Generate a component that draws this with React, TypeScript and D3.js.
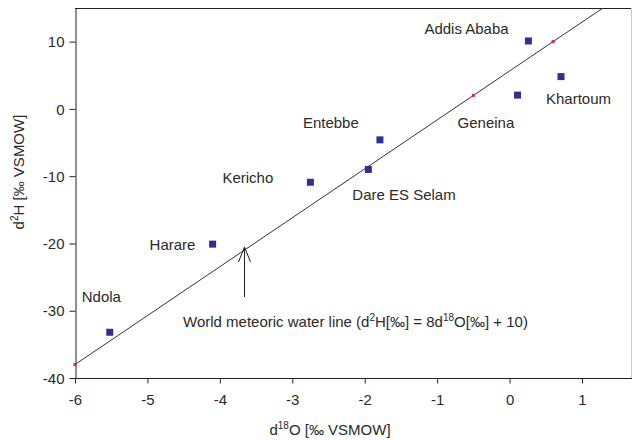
import React, { useEffect, useRef } from 'react';
import * as d3 from 'd3';

// station measurements
const stations = ['Ndola', 'Harare', 'Kericho', 'Dare ES Selam', 'Entebbe', 'Geneina', 'Addis Ababa', 'Khartoum'];
const d18O = [-5.52, -4.1, -2.75, -1.95, -1.79, 0.11, 0.26, 0.71];
const d2H = [-33.2, -20.1, -10.9, -9.0, -4.6, 2.05, 10.1, 4.8];

// meteoric water line as drawn in the chart (markers + end of the line)
const lineX = [-6, -0.5, 0.6];
const lineY = [-38, 2, 10];
const lineEnd = [1.29, 15];

const xTicks = [-6, -5, -4, -3, -2, -1, 0, 1];
const yTicks = [-40, -30, -20, -10, 0, 10];

// label offsets in px relative to the marker
const labelDx = [-28, -63, -88, -16, -77, -60, -104, -15];
const labelDy = [-30, 6, 1, 31, -12, 33, -7, 27];

const FONT = '"Liberation Sans", Arial, sans-serif';
const TEXT = '#2a2a2a';

const App = () => {
  const svgRef = useRef(null);

  useEffect(() => {
    const width = 632;
    const height = 441;
    const svg = d3.select(svgRef.current);
    svg.selectAll('*').remove();
    svg.attr('width', width).attr('height', height);

    const x = d3.scaleLinear().domain([-6, 1]).range([75, 582]);
    const y = d3.scaleLinear().domain([-40, 15]).range([378, 8]);
    const left = x(-6);
    const top = y(15);
    const bottom = y(-40);

    // plot frame
    svg.append('line')
      .attr('x1', left).attr('x2', width).attr('y1', top + 0.5).attr('y2', top + 0.5)
      .attr('stroke', '#222');
    svg.append('line')
      .attr('x1', width - 0.5).attr('x2', width - 0.5).attr('y1', top).attr('y2', bottom)
      .attr('stroke', '#ccc');

    svg.append('defs').append('clipPath').attr('id', 'plot')
      .append('rect').attr('x', left).attr('y', top).attr('width', width - left).attr('height', bottom - top);

    // axes (plain hyphen for negatives, like the original)
    const fmt = d => String(d);
    const xAxis = svg.append('g')
      .attr('transform', `translate(0, ${bottom + 0.5})`)
      .call(d3.axisBottom(x).tickValues(xTicks).tickSize(5).tickSizeOuter(0).tickFormat(fmt));
    xAxis.select('.domain').attr('d', `M${left},0H${width}`);

    const yAxis = svg.append('g')
      .attr('transform', `translate(${left + 0.5}, 0)`)
      .call(d3.axisLeft(y).tickValues(yTicks).tickSize(6).tickSizeOuter(0).tickFormat(fmt));

    [xAxis, yAxis].forEach(g => {
      g.selectAll('path, line').attr('stroke', '#222');
      g.selectAll('text').attr('fill', TEXT).style('font-family', FONT).style('font-size', '15px');
    });
    xAxis.selectAll('text').attr('dy', '1.25em');
    yAxis.selectAll('text').attr('x', -11).attr('dy', '0.35em');

    // water line
    const linePts = lineX.map((v, i) => [v, lineY[i]]);
    const lineGen = d3.line().x(d => x(d[0])).y(d => y(d[1]));
    svg.append('path')
      .attr('d', lineGen([...linePts, lineEnd]))
      .attr('fill', 'none')
      .attr('stroke', '#333')
      .attr('stroke-width', 1)
      .attr('clip-path', 'url(#plot)');
    svg.selectAll('.wl').data(linePts).enter().append('rect')
      .attr('x', d => x(d[0]) - 1.5).attr('y', d => y(d[1]) - 1.5)
      .attr('width', 3).attr('height', 3)
      .attr('fill', '#e8186a');

    // stations
    const size = 7;
    stations.forEach((name, i) => {
      const cx = x(d18O[i]);
      const cy = y(d2H[i]);
      svg.append('rect')
        .attr('x', cx - size / 2).attr('y', cy - size / 2)
        .attr('width', size).attr('height', size)
        .attr('fill', '#2e3192');
      svg.append('text')
        .attr('x', cx + labelDx[i]).attr('y', cy + labelDy[i])
        .attr('fill', TEXT).style('font-family', FONT).style('font-size', '15px')
        .text(name);
    });

    // arrow annotation
    const ax = 244.5;
    const tipY = 247;
    svg.append('path')
      .attr('d', `M${ax},297V${tipY}M${ax - 6},${tipY + 15}L${ax},${tipY}L${ax + 6},${tipY + 15}`)
      .attr('fill', 'none').attr('stroke', '#222');

    const ann = svg.append('text')
      .attr('x', 183).attr('y', 327)
      .attr('fill', TEXT).style('font-family', FONT).style('font-size', '15px');
    ann.append('tspan').text('World meteoric water line (d');
    ann.append('tspan').attr('dy', -6).style('font-size', '10px').text('2');
    ann.append('tspan').attr('dy', 6).text('H[‰] = 8d');
    ann.append('tspan').attr('dy', -6).style('font-size', '10px').text('18');
    ann.append('tspan').attr('dy', 6).text('O[‰] + 10)');

    // axis titles
    const xt = svg.append('text')
      .attr('x', 330).attr('y', 435).attr('text-anchor', 'middle')
      .attr('fill', TEXT).style('font-family', FONT).style('font-size', '15px');
    xt.append('tspan').text('d');
    xt.append('tspan').attr('dy', -6).style('font-size', '10px').text('18');
    xt.append('tspan').attr('dy', 6).text('O [‰  VSMOW]');

    const yt = svg.append('text')
      .attr('transform', 'translate(24, 172) rotate(-90)')
      .attr('text-anchor', 'middle')
      .attr('fill', TEXT).style('font-family', FONT).style('font-size', '15px');
    yt.append('tspan').text('d');
    yt.append('tspan').attr('dy', -6).style('font-size', '10px').text('2');
    yt.append('tspan').attr('dy', 6).text('H [‰ VSMOW]');
  }, []);

  return (
    <div style={{ position: 'absolute', left: 0, top: 0 }}>
      <svg ref={svgRef} style={{ display: 'block', background: '#fff' }}></svg>
    </div>
  );
};

export default App;
